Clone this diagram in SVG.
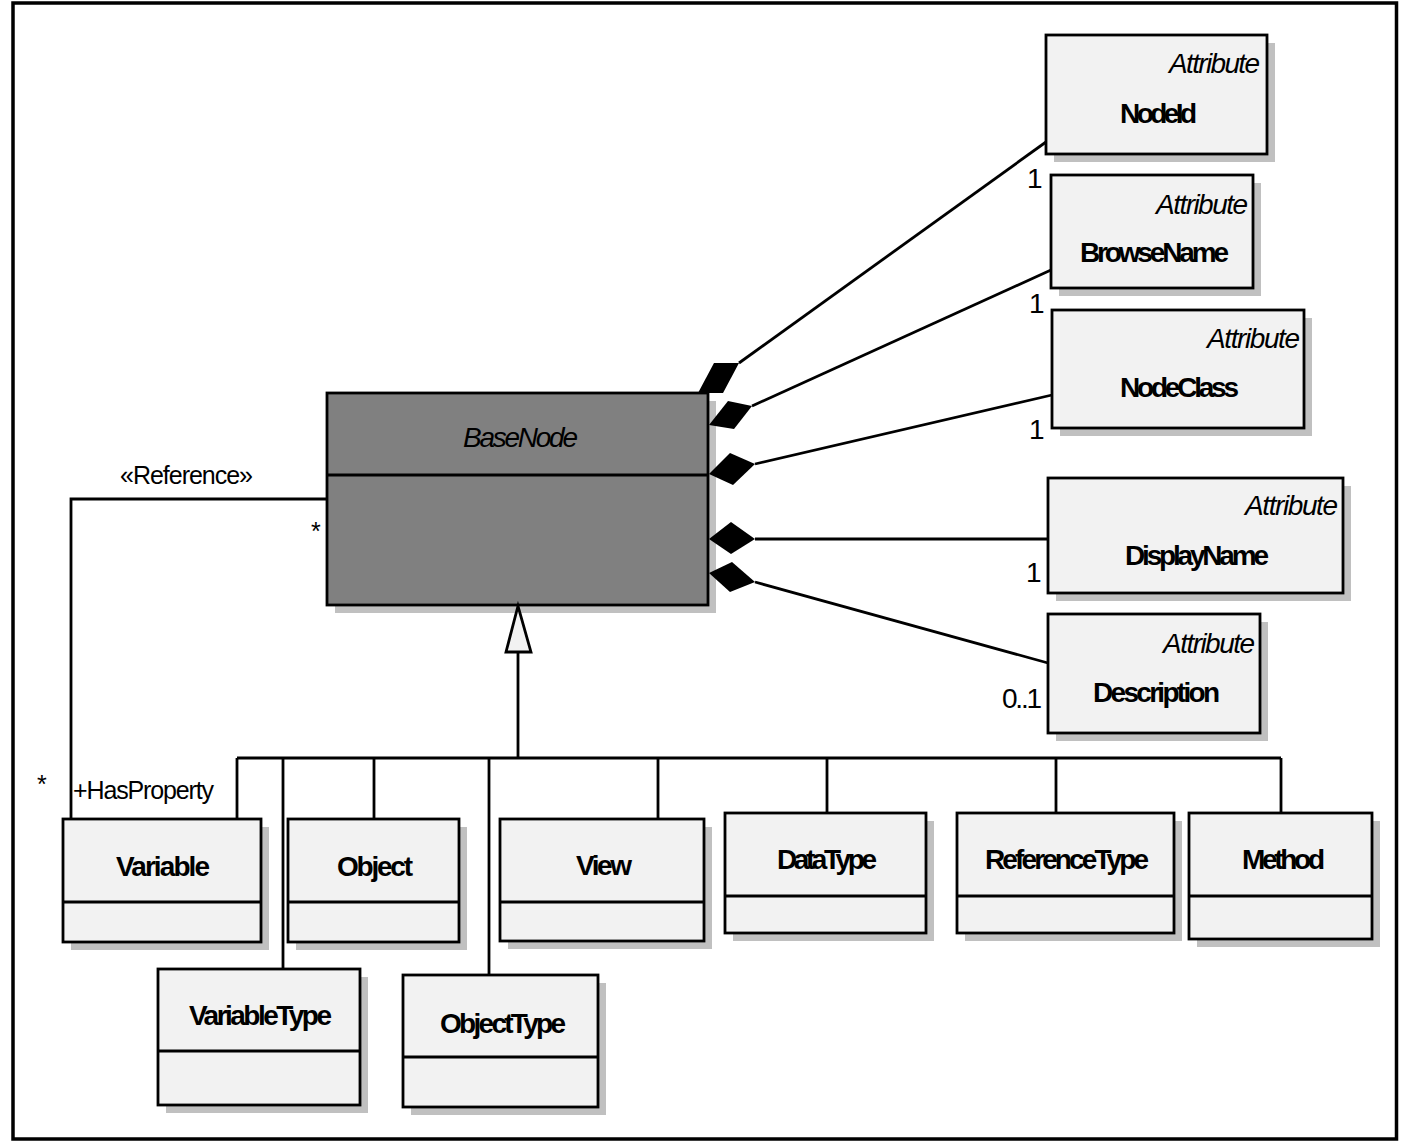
<svg xmlns="http://www.w3.org/2000/svg" width="1404" height="1146" viewBox="0 0 1404 1146">
<defs>
<style>
.box{fill:#f2f2f2;stroke:#000;stroke-width:2.8}
.dark{fill:#808080;stroke:#000;stroke-width:2.8}
.shadow{fill:#c0c0c0;stroke:none}
.ln{fill:none;stroke:#000;stroke-width:2.8}
.dia{fill:#000;stroke:none}
.tri{fill:#f2f2f2;stroke:#000;stroke-width:2.8}
text{font-family:"Liberation Sans",Arial,Helvetica,sans-serif;fill:#000}
.name{font-size:28px;font-weight:bold}
.stereo{font-size:28px;font-style:italic}
.lbl{font-size:28px}
.role{font-size:25px}
</style>
</defs>
<rect x="0" y="0" width="1404" height="1146" fill="#fff"/>
<rect x="13" y="3" width="1383.5" height="1136" fill="none" stroke="#000" stroke-width="3.5"/>

<g id="BaseNode">
<rect class="shadow" x="335" y="401" width="381" height="212"/>
<rect class="dark" x="327" y="393" width="381" height="212"/>
<line class="ln" x1="327" y1="475" x2="708" y2="475"/>
<text class="stereo" x="463" y="447" textLength="115">BaseNode</text>
</g>

<g id="NodeId">
<rect class="shadow" x="1054" y="43" width="221" height="119"/>
<rect class="box" x="1046" y="35" width="221" height="119"/>
<text class="stereo" x="1169" y="73" textLength="91">Attribute</text>
<text class="name" x="1120" y="123" textLength="77">NodeId</text>
</g>

<g id="BrowseName">
<rect class="shadow" x="1059" y="183" width="202" height="113"/>
<rect class="box" x="1051" y="175" width="202" height="113"/>
<text class="stereo" x="1156" y="214" textLength="92">Attribute</text>
<text class="name" x="1080" y="262" textLength="149">BrowseName</text>
</g>

<g id="NodeClass">
<rect class="shadow" x="1060" y="318" width="252" height="118"/>
<rect class="box" x="1052" y="310" width="252" height="118"/>
<text class="stereo" x="1207" y="348" textLength="93">Attribute</text>
<text class="name" x="1120" y="397" textLength="119">NodeClass</text>
</g>

<g id="DisplayName">
<rect class="shadow" x="1056" y="486" width="295" height="115"/>
<rect class="box" x="1048" y="478" width="295" height="115"/>
<text class="stereo" x="1245" y="515" textLength="93">Attribute</text>
<text class="name" x="1125" y="565" textLength="144">DisplayName</text>
</g>

<g id="Description">
<rect class="shadow" x="1056" y="622" width="212" height="119"/>
<rect class="box" x="1048" y="614" width="212" height="119"/>
<text class="stereo" x="1163" y="653" textLength="92">Attribute</text>
<text class="name" x="1093" y="702" textLength="127">Description</text>
</g>

<g id="Variable">
<rect class="shadow" x="71" y="827" width="198" height="123"/>
<rect class="box" x="63" y="819" width="198" height="123"/>
<line class="ln" x1="63" y1="902" x2="261" y2="902"/>
<text class="name" x="116" y="876" textLength="94">Variable</text>
</g>

<g id="Object">
<rect class="shadow" x="296" y="827" width="171" height="123"/>
<rect class="box" x="288" y="819" width="171" height="123"/>
<line class="ln" x1="288" y1="902" x2="459" y2="902"/>
<text class="name" x="337" y="876" textLength="76">Object</text>
</g>

<g id="View">
<rect class="shadow" x="508" y="827" width="204" height="122"/>
<rect class="box" x="500" y="819" width="204" height="122"/>
<line class="ln" x1="500" y1="902" x2="704" y2="902"/>
<text class="name" x="576" y="875" textLength="56">View</text>
</g>

<g id="DataType">
<rect class="shadow" x="733" y="821" width="201" height="120"/>
<rect class="box" x="725" y="813" width="201" height="120"/>
<line class="ln" x1="725" y1="896" x2="926" y2="896"/>
<text class="name" x="777" y="869" textLength="100">DataType</text>
</g>

<g id="ReferenceType">
<rect class="shadow" x="965" y="821" width="217" height="120"/>
<rect class="box" x="957" y="813" width="217" height="120"/>
<line class="ln" x1="957" y1="896" x2="1174" y2="896"/>
<text class="name" x="985" y="869" textLength="164">ReferenceType</text>
</g>

<g id="Method">
<rect class="shadow" x="1197" y="821" width="183" height="126"/>
<rect class="box" x="1189" y="813" width="183" height="126"/>
<line class="ln" x1="1189" y1="896" x2="1372" y2="896"/>
<text class="name" x="1242" y="869" textLength="83">Method</text>
</g>

<g id="VariableType">
<rect class="shadow" x="166" y="977" width="202" height="136"/>
<rect class="box" x="158" y="969" width="202" height="136"/>
<line class="ln" x1="158" y1="1051" x2="360" y2="1051"/>
<text class="name" x="189" y="1025" textLength="143">VariableType</text>
</g>

<g id="ObjectType">
<rect class="shadow" x="411" y="983" width="195" height="132"/>
<rect class="box" x="403" y="975" width="195" height="132"/>
<line class="ln" x1="403" y1="1057" x2="598" y2="1057"/>
<text class="name" x="440" y="1033" textLength="126">ObjectType</text>
</g>

<g id="connectors">
<polyline class="ln" points="327,499 71,499 71,819"/>
<text class="role" x="120" y="484" textLength="133">«Reference»</text>
<text class="role" x="311" y="540">*</text>
<text class="role" x="37" y="793">*</text>
<text class="role" x="73" y="799" textLength="141">+HasProperty</text>

<line class="ln" x1="739" y1="363" x2="1046" y2="142"/>
<polygon class="dia" points="714,363 739,363 723,393 698,393"/>
<line class="ln" x1="752" y1="406" x2="1051" y2="270"/>
<polygon class="dia" points="709,425 728,401 752,406 734,429"/>
<line class="ln" x1="755" y1="464" x2="1052" y2="395"/>
<polygon class="dia" points="709,474 730,453 755,464 733,485"/>
<line class="ln" x1="755" y1="539" x2="1048" y2="539"/>
<polygon class="dia" points="709,539 731,522 755,539 731,554"/>
<line class="ln" x1="755" y1="582" x2="1048" y2="663"/>
<polygon class="dia" points="709,573 732,562 755,582 730,592"/>

<text class="lbl" x="1027" y="188">1</text>
<text class="lbl" x="1029" y="313">1</text>
<text class="lbl" x="1029" y="439">1</text>
<text class="lbl" x="1026" y="582">1</text>
<text class="lbl" x="1002" y="708" textLength="40">0..1</text>

<line class="ln" x1="518" y1="652" x2="518" y2="758"/>
<polygon class="tri" points="518,606 506,652 531,652"/>
<line class="ln" x1="237" y1="758" x2="1281" y2="758"/>
<line class="ln" x1="237" y1="758" x2="237" y2="819"/>
<line class="ln" x1="283" y1="758" x2="283" y2="969"/>
<line class="ln" x1="374" y1="758" x2="374" y2="819"/>
<line class="ln" x1="489" y1="758" x2="489" y2="975"/>
<line class="ln" x1="658" y1="758" x2="658" y2="819"/>
<line class="ln" x1="827" y1="758" x2="827" y2="813"/>
<line class="ln" x1="1056" y1="758" x2="1056" y2="813"/>
<line class="ln" x1="1281" y1="758" x2="1281" y2="813"/>
</g>
</svg>
